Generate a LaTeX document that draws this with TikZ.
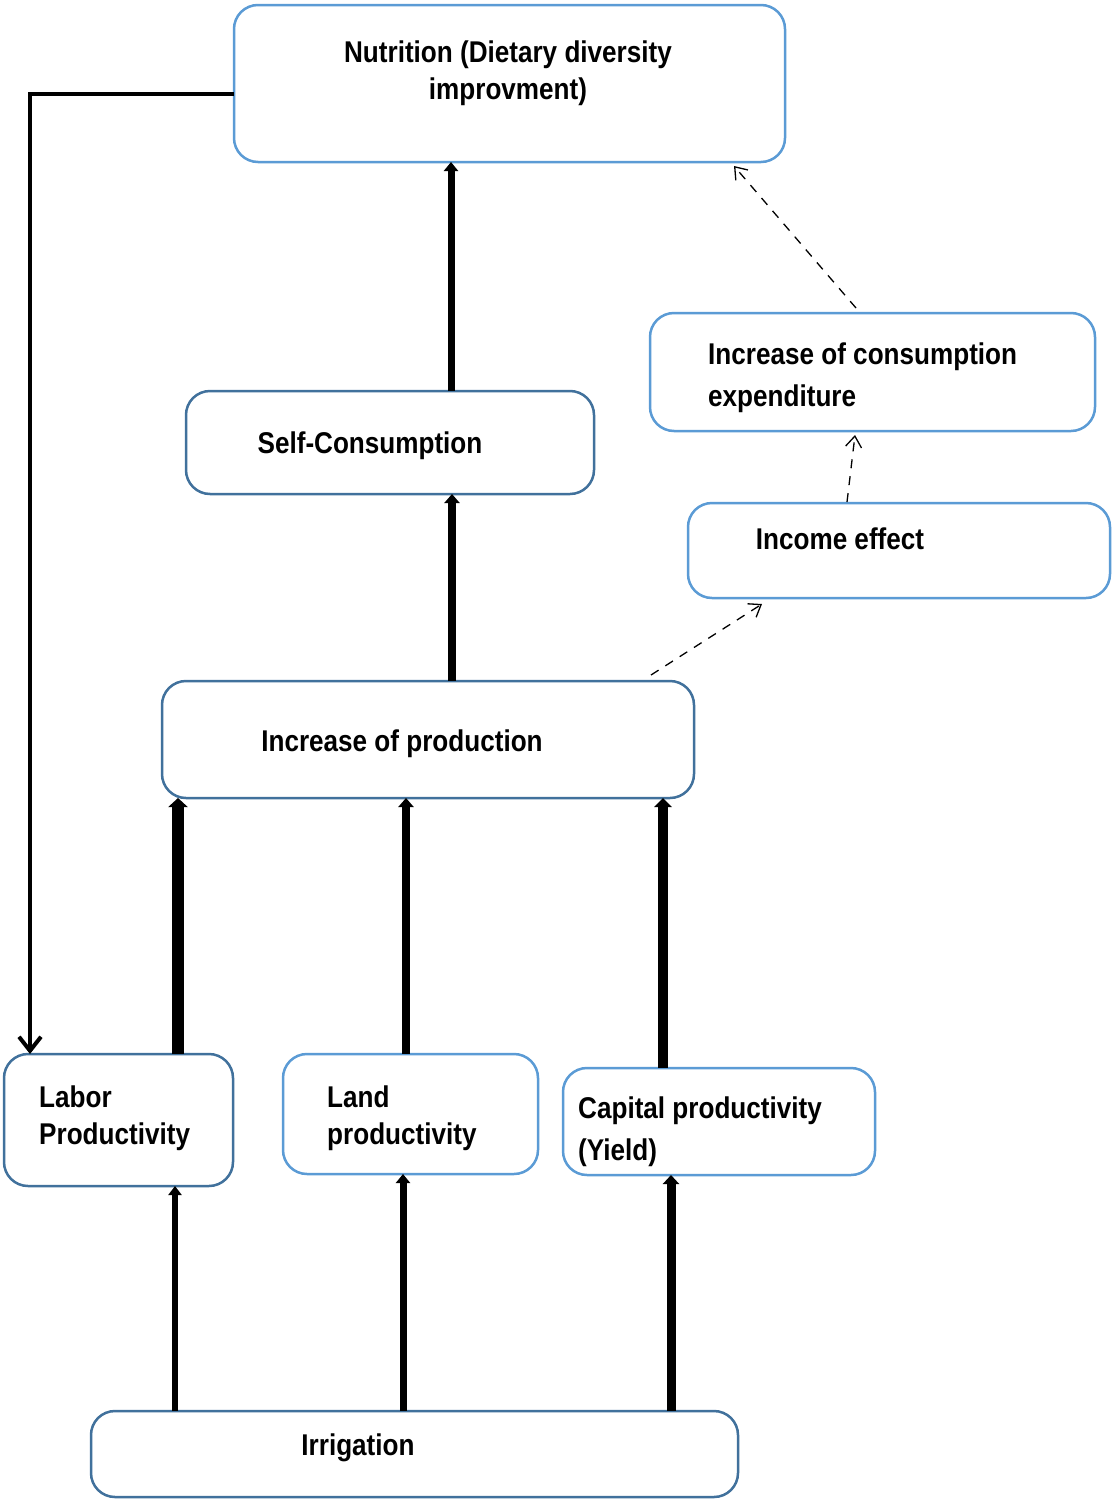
\documentclass[tikz,border=0pt]{standalone}
\usepackage{fontspec}
\setmainfont{Liberation Sans}[FakeStretch=0.87]
\usetikzlibrary{arrows.meta}
\definecolor{lightb}{HTML}{5B9BD5}
\definecolor{darkb}{HTML}{41719C}
\begin{document}
\begin{tikzpicture}[x=1pt,y=-1pt,
  box/.style={draw=lightb,line width=2.5pt,rounded corners=24pt,inner sep=0pt,outer sep=0pt,fill=white},
  dbox/.style={box,draw=darkb},
  lbl/.style={font=\fontsize{30}{37}\selectfont\bfseries,inner sep=0pt,align=left},
  thick1/.style={line width=#1,-{Triangle[length=9pt,width=#1+7pt]}},
  dash1/.style={line width=1.3pt,dash pattern=on 9pt off 8pt,-{Straight Barb[length=11pt,width=16pt]}},
  loopar/.style={line width=4pt,-{Straight Barb[length=14pt,width=22pt]}}]
\useasboundingbox (0,0) rectangle (1113,1499);
% boxes
\node[box, minimum width=551pt, minimum height=157pt] (nut) at (509.5,83.5) {};
\node[dbox,minimum width=408pt, minimum height=103pt] (selfc) at (390,442.5) {};
\node[box, minimum width=445pt, minimum height=118pt] (cons) at (872.5,372) {};
\node[box, minimum width=422pt, minimum height=95pt] (inc) at (899,550.5) {};
\node[dbox,minimum width=532pt, minimum height=117pt] (prod) at (428,739.5) {};
\node[dbox,minimum width=229pt, minimum height=132pt] (labor) at (118.5,1120) {};
\node[box, minimum width=255pt, minimum height=120pt] (land) at (410.5,1114) {};
\node[box, minimum width=312pt, minimum height=107pt] (cap) at (719,1121.5) {};
\node[dbox,minimum width=647pt, minimum height=86pt] (irr) at (414.5,1454) {};
% labels
\node[lbl,align=center] (tnut) at (508,73) {Nutrition (Dietary diversity\\improvment)};
\node[lbl] (tselfc) at (370,446) {Self-Consumption};
\node[lbl,anchor=west,font=\fontsize{30}{42}\selectfont\bfseries] (tcons) at (708,378) {Increase of consumption\\expenditure};
\node[lbl] (tinc) at (840,539) {Income effect};
\node[lbl] (tprod) at (402,744) {Increase of production};
\node[lbl,anchor=west] (tlabor) at (39,1118.5) {Labor\\Productivity};
\node[lbl,anchor=west] (tland) at (327,1118.5) {Land\\productivity};
\node[lbl,anchor=west,font=\fontsize{30}{42}\selectfont\bfseries] (tcap) at (578,1132) {Capital productivity\\(Yield)};
\node[lbl] (tirr) at (358,1448) {Irrigation};
% loop connector
\draw[loopar] ([yshift=-10.5pt]nut.west) -| ([xshift=26pt]labor.north west);
% solid arrows
\draw[thick1=7pt] ([xshift=265pt]selfc.north west) -- ([xshift=217pt]nut.south west);
\draw[thick1=8pt] ([xshift=290pt]prod.north west) -- ([xshift=266pt]selfc.south west);
\draw[thick1=12pt] ([xshift=174pt]labor.north west) -- ([xshift=16pt]prod.south west);
\draw[thick1=8pt] ([xshift=123pt]land.north west) -- ([xshift=244pt]prod.south west);
\draw[thick1=10pt] ([xshift=100pt]cap.north west) -- ([xshift=501pt]prod.south west);
\draw[thick1=6pt] ([xshift=84pt]irr.north west) -- ([xshift=171pt]labor.south west);
\draw[thick1=7pt] ([xshift=312pt]irr.north west) -- ([xshift=120pt]land.south west);
\draw[thick1=9pt] ([xshift=580pt]irr.north west) -- ([xshift=108pt]cap.south west);
% dashed arrows
\draw[dash1] ([xshift=489pt,yshift=6pt]prod.north west) -- ([xshift=74pt,yshift=-6pt]inc.south west);
\draw[dash1] ([xshift=159pt,yshift=1pt]inc.north west) -- ([xshift=205pt,yshift=-4pt]cons.south west);
\draw[dash1] ([xshift=206pt,yshift=5pt]cons.north west) -- ([xshift=-51pt,yshift=-4pt]nut.south east);
\end{tikzpicture}
\end{document}
